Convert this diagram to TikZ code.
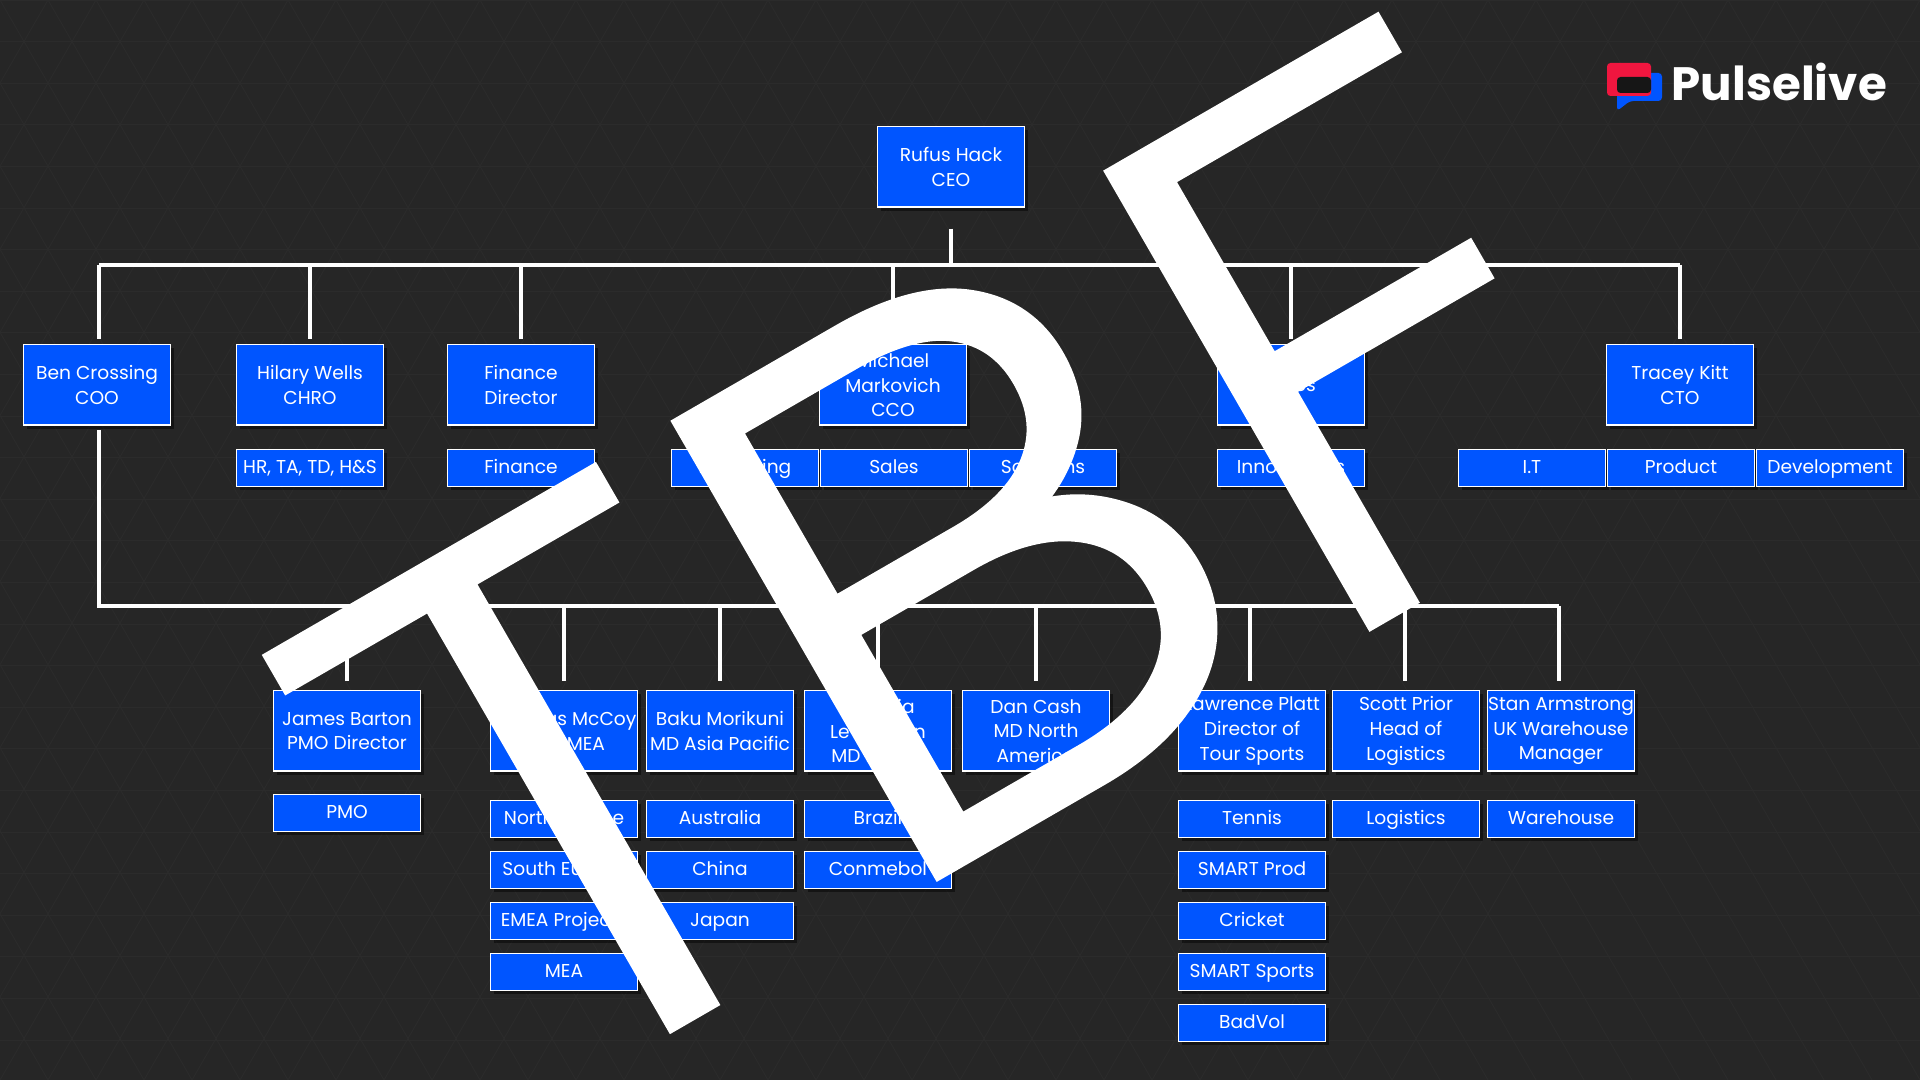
\documentclass[tikz,border=0pt]{standalone}
\usepackage{fontspec}
\setmainfont{Poppins}
\newfontfamily\bigfont[RawFeature={embolden=2.6}]{Poppins ExtraLight}
\usetikzlibrary{shadows}
\definecolor{pageback}{HTML}{262626}
\definecolor{pageline}{HTML}{2B2B2B}
\definecolor{boxblue}{HTML}{0055FF}
\definecolor{logored}{HTML}{F0163F}
\definecolor{logoblack}{HTML}{161616}
\tikzset{
  bigbox/.style={draw=white, line width=0.3pt, fill=boxblue, text=white, align=center,
    minimum width=1.46cm, minimum height=0.80cm, inner sep=0pt,
    font=\fontsize{5.3}{7}\selectfont,
    drop shadow={shadow xshift=1pt, shadow yshift=-1pt, opacity=0.45, fill=black}},
  subbox/.style={bigbox, minimum height=0.37cm, text height=4.6pt, text depth=1.4pt},
  busline/.style={draw=white, line width=1pt},
  dropline/.style={busline, shorten >=1.5pt},
  lowdrop/.style={busline, shorten >=2.8pt},
  tbfletter/.style={text=white, inner sep=0pt, rotate=30, xscale=1.12, font=\fontsize{208}{208}\bigfont},
}
\begin{document}
\begin{tikzpicture}[x=0.01cm, y=-0.01cm]
  \useasboundingbox (0,0) rectangle (1920,1080);
  \fill[pageback] (0,0) rectangle (1920,1080);
  % background triangles
  \begin{scope}
    \clip (0,0) rectangle (1920,1080);
    \foreach \i in {-12,...,42} {
      \draw[pageline, line width=0.25pt] (\i*48,0) -- ++(624,1080);
      \draw[pageline, line width=0.25pt] (\i*48,0) -- ++(-624,1080);
    }
    \foreach \i in {0,...,26} {
      \draw[pageline, line width=0.25pt] (0,\i*41.6) -- (1920,\i*41.6);
    }
  \end{scope}
  % CEO
  \node[bigbox] (rufus) at (951,167) {Rufus Hack\\CEO};
  % top row
  \node[bigbox] (ben) at (97,385) {Ben Crossing\\COO};
  \node[bigbox] (hilary) at (310,385) {Hilary Wells\\CHRO};
  \node[bigbox] (findir) at (521,385) {Finance\\Director};
  \node[bigbox] (michael) at (893,385) {Michael\\Markovich\\CCO};
  \node[bigbox] (paul) at (1291,385) {Paul\\Innes\\CIO};
  \node[bigbox] (tracey) at (1680,385) {Tracey Kitt\\CTO};
  % top row teams
  \node[subbox] (hr) at (310,468) {HR, TA, TD, H\&S};
  \node[subbox] (finance) at (521,468) {Finance};
  \node[subbox] (marketing) at (745,468) {Marketing};
  \node[subbox] (sales) at (894,468) {Sales};
  \node[subbox] (solutions) at (1043,468) {Solutions};
  \node[subbox] (innovations) at (1291,468) {Innovations};
  \node[subbox] (it) at (1532,468) {I.T};
  \node[subbox] (product) at (1681,468) {Product};
  \node[subbox] (development) at (1830,468) {Development};
  % lower row
  \node[bigbox] (james) at (347,731) {James Barton\\PMO Director};
  \node[bigbox] (thomas) at (564,731) {Thomas McCoy\\MD EMEA};
  \node[bigbox] (baku) at (720,731) {Baku Morikuni\\MD Asia Pacific};
  \node[bigbox] (lydia) at (878,731) {Claudia\\Le Salmon\\MD LatAm};
  \node[bigbox] (dan) at (1036,731) {Dan Cash\\MD North\\America};
  \node[bigbox] (lawrence) at (1252,731) {Lawrence Platt\\Director of\\Tour Sports};
  \node[bigbox] (scott) at (1406,731) {Scott Prior\\Head of\\Logistics};
  \node[bigbox] (stan) at (1561,731) {Stan Armstrong\\UK Warehouse\\Manager};
  % lower row teams
  \node[subbox] (pmo) at (347,813) {PMO};
  \node[subbox] (northeu) at (564,819) {North Europe};
  \node[subbox] (southeu) at (564,870) {South Europe};
  \node[subbox] (emeaproj) at (564,921) {EMEA Projects};
  \node[subbox] (mea) at (564,972) {MEA};
  \node[subbox] (australia) at (720,819) {Australia};
  \node[subbox] (china) at (720,870) {China};
  \node[subbox] (japan) at (720,921) {Japan};
  \node[subbox] (brazil) at (878,819) {Brazil};
  \node[subbox] (conmebol) at (878,870) {Conmebol};
  \node[subbox] (tennis) at (1252,819) {Tennis};
  \node[subbox] (smartprod) at (1252,870) {SMART Prod};
  \node[subbox] (cricket) at (1252,921) {Cricket};
  \node[subbox] (smartsports) at (1252,972) {SMART Sports};
  \node[subbox] (badvol) at (1252,1023) {BadVol};
  \node[subbox] (logistics) at (1406,819) {Logistics};
  \node[subbox] (warehouse) at (1561,819) {Warehouse};
  % top bus
  \coordinate (topbus) at (951,265);
  \coordinate (lowbus) at (951,606);
  \coordinate (benleft) at (99,265);
  \coordinate (lawrenceline) at (1250,606);
  \coordinate (scottline) at (1405,606);
  \coordinate (stanline) at (1559,606);
  \draw[busline, shorten <=6pt] (rufus.south) -- (rufus |- topbus);
  \draw[busline] (benleft) -- (tracey.north |- topbus);
  \draw[dropline] (benleft) -- (benleft |- ben.north);
  \draw[dropline] (hilary.north |- topbus) -- (hilary.north);
  \draw[dropline] (findir.north |- topbus) -- (findir.north);
  \draw[dropline] (michael.north |- topbus) -- (michael.north);
  \draw[dropline] (paul.north |- topbus) -- (paul.north);
  \draw[dropline] (tracey.north |- topbus) -- (tracey.north);
  % lower bus
  \draw[busline, shorten <=1.2pt] (benleft |- ben.south) -- (benleft |- lowbus) -- (stanline);
  \draw[lowdrop] (james.north |- lowbus) -- (james.north);
  \draw[lowdrop] (thomas.north |- lowbus) -- (thomas.north);
  \draw[lowdrop] (baku.north |- lowbus) -- (baku.north);
  \draw[lowdrop] (lydia.north |- lowbus) -- (lydia.north);
  \draw[lowdrop] (dan.north |- lowbus) -- (dan.north);
  \draw[lowdrop] (lawrenceline) -- (lawrenceline |- lawrence.north);
  \draw[lowdrop] (scottline) -- (scottline |- scott.north);
  \draw[lowdrop] (stanline) -- (stanline |- stan.north);
  % logo
  \fill[rounded corners=1pt, boxblue] (1617,73) -- (1662,73) -- (1662,101) -- (1630,101) -- (1617,111) -- cycle;
  \fill[rounded corners=1pt, logored] (1607,63) rectangle (1651,96);
  \fill[rounded corners=1pt, logoblack] (1617,77) rectangle (1651,93);
  \node[text=white, anchor=base west, inner sep=0pt, font=\fontsize{13.3}{15}\selectfont\bfseries] (pulselive) at (1671,101) {Pulselive};
  % big letters
  \node[tbfletter] (letterT) at (562,789) {T};
  \node[tbfletter] (letterB) at (960,561) {B};
  \node[tbfletter] (letterF) at (1358,331) {F};
\end{tikzpicture}
\end{document}
